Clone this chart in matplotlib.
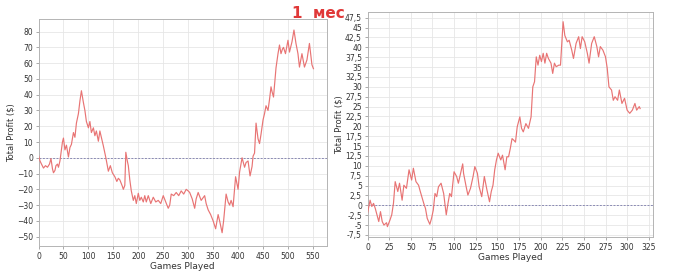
import matplotlib
matplotlib.use('Agg')
import matplotlib.pyplot as plt
from matplotlib.ticker import MultipleLocator, FuncFormatter

# left chart: games played vs total profit
games1 = [0, 3, 6, 10, 14, 18, 22, 25, 28, 30, 33, 35, 38, 40, 43, 46, 48, 50, 53, 56,
          60, 63, 66, 70, 73, 76, 80, 83, 86, 90, 93, 96, 100, 103, 106, 110, 113, 116,
          120, 123, 126, 130, 135, 140, 144, 148, 153, 157, 160, 163, 168, 170, 173, 175,
          178, 180, 183, 186, 190, 193, 196, 200, 203, 206, 210, 213, 216, 220, 225, 230,
          235, 240, 245, 250, 255, 260, 263, 266, 271, 276, 281, 286, 291, 296, 300, 303,
          308, 313, 316, 320, 326, 333, 336, 340, 345, 350, 355, 360, 363, 368, 371, 376,
          380, 383, 386, 390, 395, 400, 403, 408, 413, 416, 420, 424, 428, 430, 433, 436,
          440, 443, 446, 450, 453, 456, 460, 463, 466, 468, 471, 476, 480, 483, 486, 489,
          491, 495, 500, 503, 508, 512, 516, 520, 523, 528, 533, 538, 543, 548, 551]
profit1 = [1.5, -2, -4, -6.5, -5, -6, -4, -0.5, -7, -9.5, -8, -5, -4, -6, -2, 5, 10, 12.5, 5, 8,
           0.5, 6.5, 8.5, 16, 13, 22, 28, 36, 42.5, 35, 30, 23, 19, 23, 16, 19, 14, 17,
           10.5, 17, 13, 7.5, 0, -8.5, -5, -9.5, -12, -15, -13, -14, -18, -20, -17.5, 3.5,
           -2, -5, -14, -21, -27, -24, -29, -22.5, -27, -25, -28, -24, -28, -24, -29, -25,
           -28, -27, -29, -24, -28, -32, -30, -23, -24, -22, -24, -21, -23, -20, -21, -22,
           -26, -32, -26, -22, -27, -24, -29, -33, -36, -40, -45, -36, -40, -47.5, -40, -23,
           -28, -30, -27, -31, -12, -20, -9, 0, -6, -3, -2, -11.5, -5.5, 1, 3, 22,
           12, 9, 15, 24, 28, 33, 30, 37, 45, 42, 38.5, 57, 66, 71.5, 66, 69,
           70, 66, 74.5, 67, 73.5, 81, 72.5, 66, 57.5, 66, 57.5, 62, 72.5, 59, 56.5]

# right chart
games2 = [0, 3, 5, 7, 9, 11, 13, 15, 17, 19, 22, 23, 26, 28, 30, 32, 35, 37, 40, 42, 45,
          48, 51, 53, 56, 59, 61, 65, 67, 69, 72, 74, 76, 78, 80, 82, 85, 88, 91, 93, 95,
          97, 100, 103, 105, 108, 110, 111, 114, 116, 119, 122, 124, 127, 129, 132, 135,
          138, 141, 143, 145, 147, 149, 151, 154, 156, 159, 161, 163, 165, 167, 169, 171,
          173, 176, 178, 180, 183, 186, 189, 191, 193, 195, 197, 199, 201, 203, 205, 207,
          209, 212, 214, 216, 218, 221, 223, 226, 228, 231, 233, 236, 238, 241, 244, 246,
          248, 251, 254, 256, 259, 262, 265, 267, 269, 272, 275, 277, 279, 282, 284, 286,
          289, 291, 294, 297, 300, 303, 306, 309, 311, 314, 315]
profit2 = [-2, 1.3, -0.3, 0.5, -0.8, -2.5, -4.1, -1.6, -4.1, -5, -4.4, -5.4, -3.7, -2.4, 0.5,
           6, 3.5, 5.6, 1.3, 5.1, 4.3, 9, 6.4, 9.4, 6, 5.1, 3.5, 0.5, -0.8, -3.3, -4.8, -3.3,
           -1.2, 3, 2.2, 4.7, 5.6, 3, -2.4, 0.5, 3, 2.2, 8.5, 7.3, 5.6, 8.5, 10.5, 8.1, 4.7,
           2.6, 4.3, 7.3, 9.8, 8.1, 4.7, 2.2, 7.3, 3.9, 0.9, 3.5, 5.1, 9, 11.5, 13.2, 11.5,
           12.7, 9, 12.3, 12.3, 14.4, 16.9, 16.5, 16, 19.9, 22.4, 19.5, 18.6, 20.7, 19.5,
           22.4, 30, 31.3, 37.6, 35.5, 38, 36.4, 38.5, 36, 38.5, 37.2, 36, 33.4, 36, 35.1,
           35.5, 35.5, 46.5, 43, 41.4, 41.8, 39.3, 37.2, 41, 42.7, 39.7, 42.7, 41.4, 38.5,
           36, 41, 42.7, 40.2, 37.6, 40.2, 39.3, 37.6, 34.7, 30, 29.2, 26.6, 27.5, 26.6,
           29.2, 25.8, 27.1, 24.1, 23.3, 24.1, 25.8, 24.1, 25, 24.5]

line_col = '#e87474'
grid_col = '#e6e6e6'
spine_col = '#b4b4b4'


def comma_fmt(v, pos):
    s = ('%.1f' % v).rstrip('0').rstrip('.')
    return s.replace('.', ',')


def style(ax):
    ax.set_facecolor('white')
    ax.grid(True, color=grid_col, lw=0.6)
    ax.set_axisbelow(True)
    for s in ax.spines.values():
        s.set_color(spine_col)
        s.set_linewidth(0.7)
    ax.tick_params(labelsize=5.5, length=2, width=0.5, color='#888888',
                   labelcolor='#333333', pad=2)
    ax.axhline(0, color='#8a8ab4', lw=0.7, ls=(0, (2, 1.5)), zorder=1)
    ax.set_xlabel('Games Played', fontsize=6.5, color='#333333', labelpad=1)
    ax.set_ylabel('Total Profit ($)', fontsize=6, color='#333333', labelpad=1)


fig = plt.figure(figsize=(7, 2.75), dpi=100)

ax1 = fig.add_axes([0.055, 0.105, 0.412, 0.826])
ax1.plot(games1, profit1, color=line_col, lw=0.85, zorder=3)
style(ax1)
ax1.set_xlim(0, 578)
ax1.set_ylim(-56, 88)
ax1.xaxis.set_major_locator(MultipleLocator(50))
ax1.yaxis.set_major_locator(MultipleLocator(10))

ax2 = fig.add_axes([0.525, 0.137, 0.408, 0.820])
ax2.plot(games2, profit2, color=line_col, lw=0.85, zorder=3)
style(ax2)
ax2.set_xlim(0, 330)
ax2.set_ylim(-8.1, 49)
ax2.xaxis.set_major_locator(MultipleLocator(25))
ax2.yaxis.set_major_locator(MultipleLocator(2.5))
ax2.yaxis.set_major_formatter(FuncFormatter(comma_fmt))

fig.text(0.417, 0.952, '1  мес', color='#e03838', fontsize=11, fontweight='bold',
         ha='left', va='center')

fig.savefig('out.png', dpi=100)
